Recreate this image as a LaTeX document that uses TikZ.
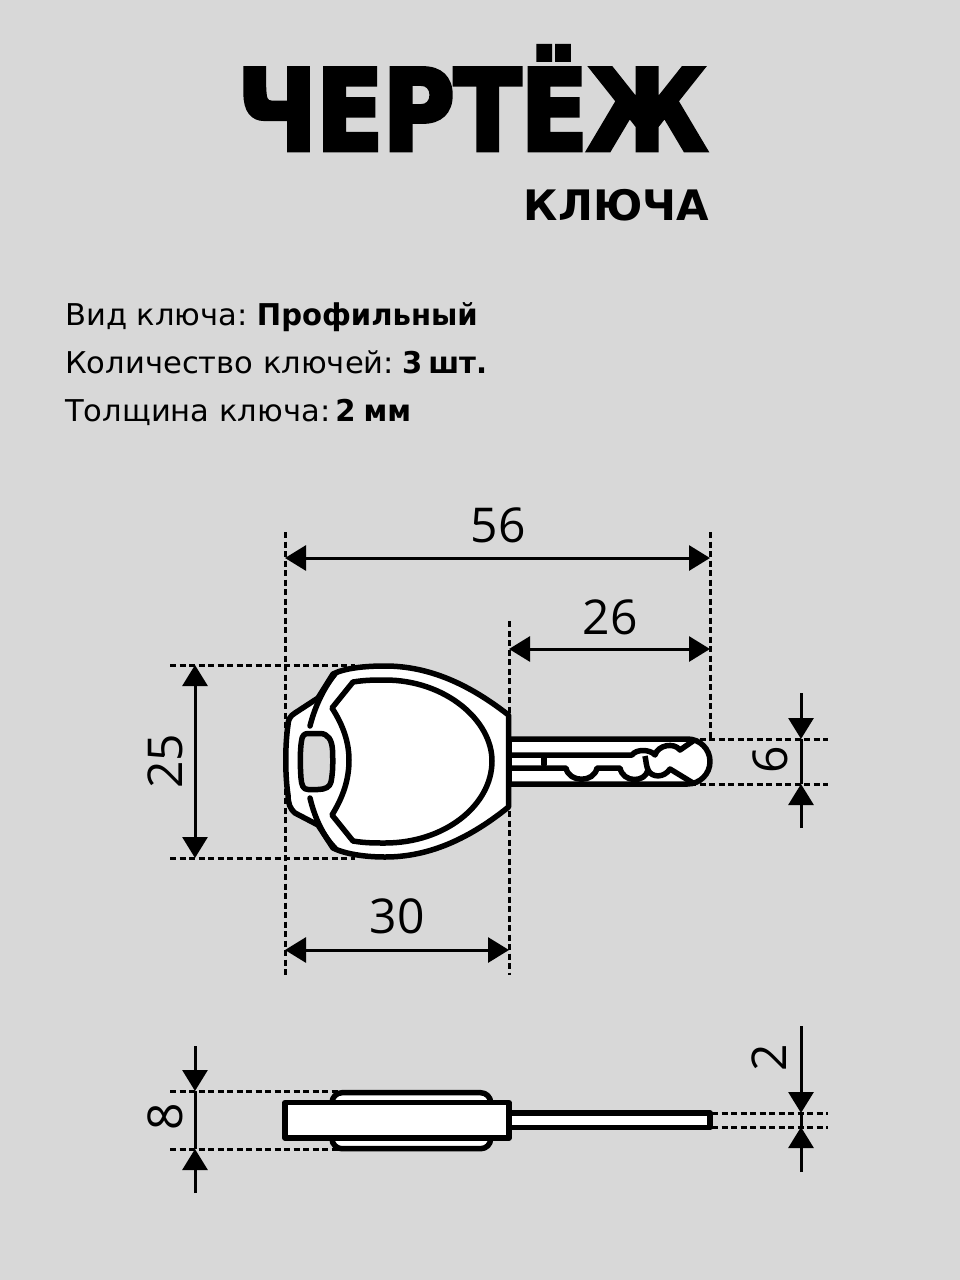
\documentclass[tikz,border=0pt]{standalone}
\usepackage{fontspec}
\usetikzlibrary{arrows.meta}
\setmainfont[FakeStretch=1.02,BoldFeatures={FakeStretch=0.97}]{DejaVu Sans}
\newfontfamily\titlefont[FakeBold=4,FakeStretch=0.87]{DejaVu Sans Bold}
\newfontfamily\subfont{DejaVu Sans Bold}
\newfontfamily\numfont{Open Sans}
\definecolor{sheetgray}{RGB}{216,216,216}
\tikzset{
    titlenode/.style={inner sep=0pt, anchor=base east},
    infonode/.style={inner sep=0pt, anchor=base west, font=\fontsize{30}{36}\selectfont},
    numnode/.style={inner sep=0pt, font=\numfont\fontsize{48}{56}\selectfont},
    guideline/.style={line width=3pt, dash pattern=on 6pt off 3.5pt},
    dimline/.style={line width=3pt, {Triangle[length=21pt,width=25pt]}-{Triangle[length=21pt,width=25pt]}},
    leadline/.style={line width=3pt, -{Triangle[length=21pt,width=25pt]}},
    keyline/.style={line width=5.5pt, line join=round}
}
\begin{document}
\begin{tikzpicture}[x=1pt,y=-1pt]
    \fill[sheetgray] (0,0) rectangle (960,1280);

    \node[titlenode] (title) at (707,150) {\titlefont\fontsize{112}{120}\selectfont ЧЕРТЁЖ};
    \node[titlenode] (subtitle) at (709,220) {\subfont\fontsize{42}{48}\selectfont КЛЮЧА};
    \node[infonode] (kind) at (65,325) {Вид ключа:\hspace{9pt}\textbf{Профильный}};
    \node[infonode] (count) at (65,373) {Количество ключей:\hspace{8pt}\textbf{3\hspace{6pt}шт.}};
    \node[infonode] (thick) at (65,421) {Толщина ключа:\hspace{5pt}\textbf{2\hspace{8pt}мм}};

    % guide points
    \coordinate (a56l) at (285,558);
    \coordinate (a56r) at (710,558);
    \coordinate (a26l) at (509,649);
    \coordinate (a26r) at (710,649);
    \coordinate (a30l) at (285,950);
    \coordinate (a30r) at (509,950);
    \coordinate (a25t) at (195,665);
    \coordinate (a25b) at (195,858);
    \coordinate (a6s) at (801,693);
    \coordinate (a6t) at (801,739);
    \coordinate (a6b) at (801,784);
    \coordinate (a6e) at (801,828);
    \coordinate (a8s) at (195,1046);
    \coordinate (a8t) at (195,1091);
    \coordinate (a8b) at (195,1149);
    \coordinate (a8e) at (195,1193);
    \coordinate (a2s) at (801,1026);
    \coordinate (a2t) at (801,1113);
    \coordinate (a2b) at (801,1127);
    \coordinate (a2e) at (801,1172);

    \draw[guideline] (285,532) -- (285,975);
    \draw[guideline] (710,532) -- (710,738);
    \draw[guideline] (509,621) -- (509,975);
    \draw[guideline] (170,665) -- (355,665);
    \draw[guideline] (170,858) -- (355,858);
    \draw[guideline] (690,739) -- (828,739);
    \draw[guideline] (690,784) -- (828,784);
    \draw[guideline] (170,1091) -- (340,1091);
    \draw[guideline] (170,1149) -- (340,1149);
    \draw[guideline] (712,1113) -- (828,1113);
    \draw[guideline] (712,1127) -- (828,1127);

    \draw[dimline] (a56l) -- (a56r);
    \draw[dimline] (a26l) -- (a26r);
    \draw[dimline] (a30l) -- (a30r);
    \draw[dimline] (a25t) -- (a25b);
    \draw[leadline] (a6s) -- (a6t);
    \draw[leadline] (a6e) -- (a6b);
    \draw[line width=3pt] (a6t) -- (a6b);
    \draw[leadline] (a8s) -- (a8t);
    \draw[leadline] (a8e) -- (a8b);
    \draw[line width=3pt] (a8t) -- (a8b);
    \draw[leadline] (a2s) -- (a2t);
    \draw[leadline] (a2e) -- (a2b);
    \draw[line width=3pt] (a2t) -- (a2b);

    \node[numnode] (n56) at (498,525) {56};
    \node[numnode] (n26) at (610,617) {26};
    \node[numnode] (n30) at (397,916) {30};
    \node[numnode, rotate=90] (n25) at (165,761) {25};
    \node[numnode, rotate=90] (n6) at (770,760) {6};
    \node[numnode, rotate=90] (n8) at (165,1117) {8};
    \node[numnode, rotate=90] (n2) at (769,1058) {2};

    % blade
    \draw[keyline, fill=white] (509,739) -- (687.5,739) arc (-90:90:22.5) -- (509,784) -- cycle;
    \draw[keyline, line cap=round] (511,755) -- (632,755) .. controls (636,749) and (650,749) .. (655,755)
        .. controls (658,745) and (674,742) .. (680,750) -- (693,741);
    \draw[keyline] (511,768) -- (566,768) .. controls (569,783) and (594,783) .. (597,768) -- (620,768)
        .. controls (623,783) and (645,783) .. (648,770) .. controls (652,778) and (664,778) .. (670,769) -- (693,783);
    \draw[keyline] (645,756) .. controls (646,760) and (646,765) .. (648,770);
    \draw[line width=6pt, line cap=round] (544,758.5) -- (544,764.5);
    \fill[white] (547,758) rectangle (570,765);

    % head
    \draw[keyline, fill=white] (508.5,715) .. controls (470,685) and (430,666) .. (385,666)
        .. controls (365,666) and (345,668) .. (333,674) -- (318,698) -- (295,713)
        .. controls (290,716) and (288,720) .. (288,725) .. controls (285,745) and (285,775) .. (288,795)
        .. controls (288,803) and (290,809) .. (295,813) -- (318,825) -- (333,848)
        .. controls (345,854) and (365,857) .. (385,857) .. controls (430,857) and (470,838) .. (508.5,807) -- cycle;
    \draw[keyline, line cap=round] (310,726) .. controls (314,710) and (322,690) .. (335,674);
    \draw[keyline, line cap=round] (310,798) .. controls (314,815) and (322,835) .. (335,848);
    \draw[keyline] (353,682) .. controls (365,680) and (375,680) .. (385,680)
        .. controls (445,680) and (492,720) .. (492,761) .. controls (492,805) and (445,843) .. (385,843)
        .. controls (375,843) and (365,843) .. (353,841) -- (332,815)
        .. controls (343,797) and (349,780) .. (349,760) .. controls (349,742) and (343,725) .. (332,708) -- cycle;
    \draw[keyline, fill=sheetgray] (308,733.5) -- (320,733.5) .. controls (328,733.5) and (332,740) .. (332.5,750)
        .. controls (333,762) and (333,772) .. (331,782) .. controls (330,787) and (325,789.5) .. (318,789.5)
        -- (308,789.5) .. controls (303,789.5) and (301.5,785) .. (301,778)
        .. controls (300,765) and (300,750) .. (301.5,741) .. controls (302,736) and (304,733.5) .. (308,733.5) -- cycle;

    % side view
    \draw[keyline, fill=white, rounded corners=10pt] (332,1092.7) rectangle (490.7,1148.7);
    \draw[keyline, fill=white] (285,1102.7) rectangle (509,1138);
    \draw[keyline, fill=white] (509,1113) rectangle (710,1127.7);
\end{tikzpicture}
\end{document}
